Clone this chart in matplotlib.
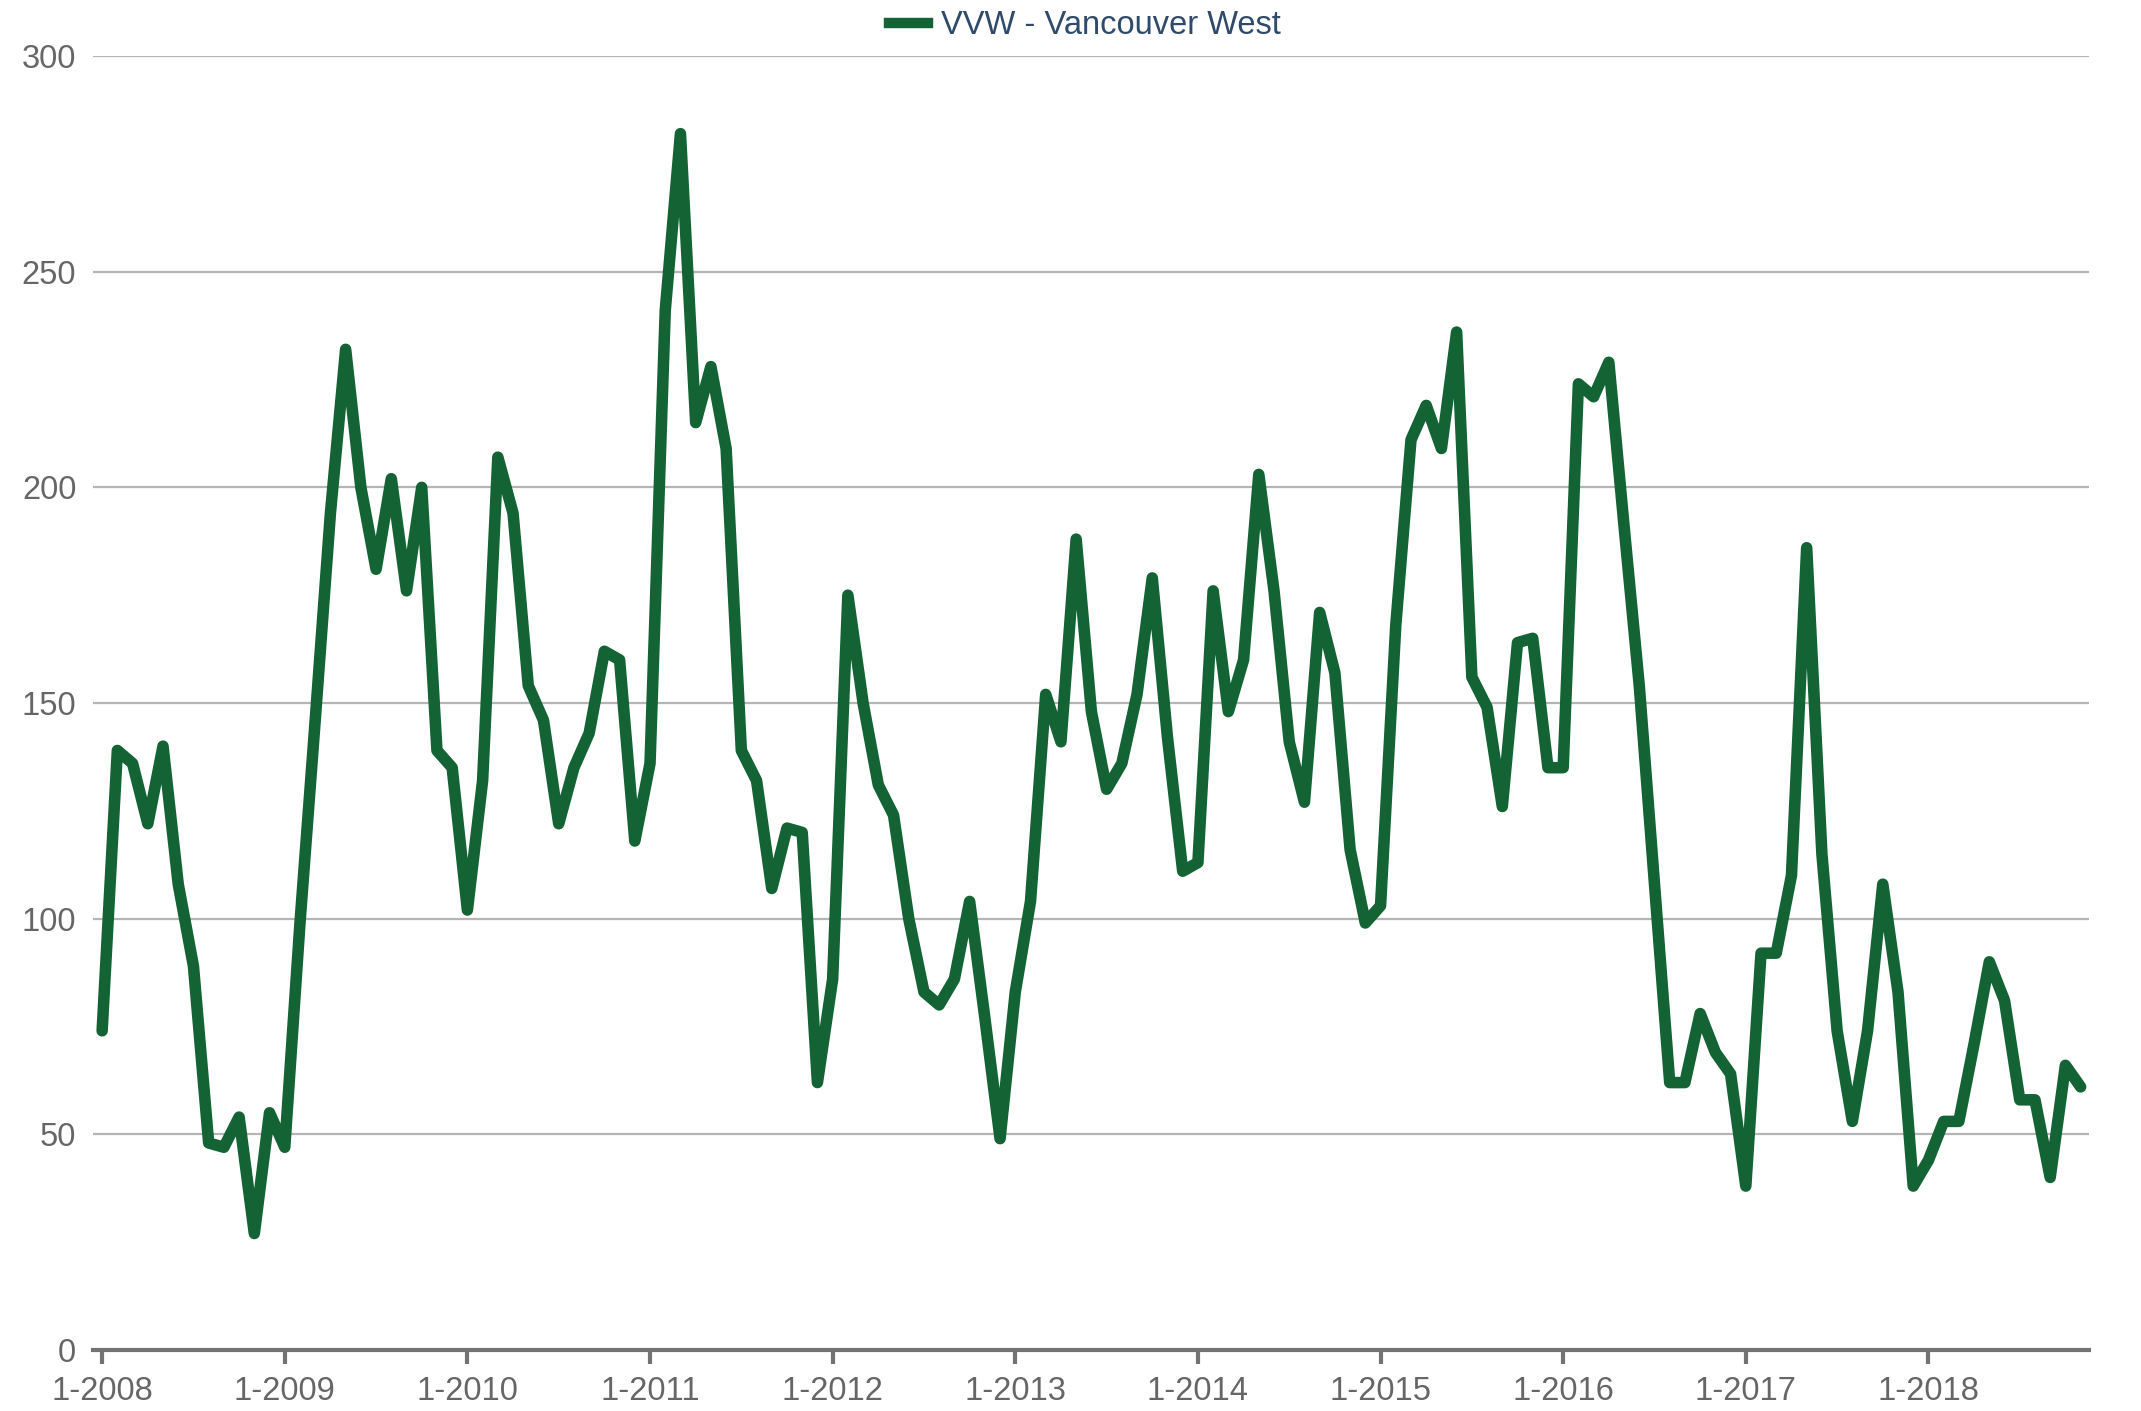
import matplotlib
matplotlib.use("Agg")
import matplotlib.pyplot as plt
from matplotlib.lines import Line2D

# Monthly counts, Jan 2008 .. Nov 2018
values_2008 = [74, 139, 136, 122, 140, 108, 89, 48, 47, 54, 27, 55]
values_2009 = [47, 99, 146, 194, 232, 200, 181, 202, 176, 200, 139, 135]
values_2010 = [102, 132, 207, 194, 154, 146, 122, 135, 143, 162, 160, 118]
values_2011 = [136, 241, 282, 215, 228, 209, 139, 132, 107, 121, 120, 62]
values_2012 = [86, 175, 150, 131, 124, 100, 83, 80, 86, 104, 77, 49]
values_2013 = [83, 104, 152, 141, 188, 148, 130, 136, 152, 179, 142, 111]
values_2014 = [113, 176, 148, 160, 203, 176, 141, 127, 171, 157, 116, 99]
values_2015 = [103, 168, 211, 219, 209, 236, 156, 149, 126, 164, 165, 135]
values_2016 = [135, 224, 221, 229, 191, 154, 108, 62, 62, 78, 69, 64]
values_2017 = [38, 92, 92, 110, 186, 115, 74, 53, 74, 108, 83, 38]
values_2018 = [44, 53, 53, 71, 90, 81, 58, 58, 40, 66, 61]

series_name = "VVW - Vancouver West"
year_labels = ["1-2008", "1-2009", "1-2010", "1-2011", "1-2012", "1-2013",
               "1-2014", "1-2015", "1-2016", "1-2017", "1-2018"]
y_ticks = [0, 50, 100, 150, 200, 250, 300]

values = (values_2008 + values_2009 + values_2010 + values_2011 + values_2012
          + values_2013 + values_2014 + values_2015 + values_2016 + values_2017
          + values_2018)
months = list(range(len(values)))

LINE_COLOR = "#136334"
GRID_COLOR = "#b5b5b5"
AXIS_COLOR = "#737373"
LABEL_COLOR = "#666666"
LEGEND_TEXT = "#2f4a6a"

plt.rcParams["font.family"] = ["Liberation Sans", "DejaVu Sans"]

W, H = 2141, 1411
fig = plt.figure(figsize=(W / 100, H / 100), dpi=100)
left, right, bottom, top = 93, 2089, 1350, 56
ax = fig.add_axes([left / W, 1 - bottom / H, (right - left) / W, (bottom - top) / H])

ax.plot(months, values, color=LINE_COLOR, linewidth=8.3,
        solid_joinstyle="round", solid_capstyle="round", zorder=3)

ax.set_ylim(0, 300)
ax.set_xlim(-0.6, 130.55)

ax.set_yticks(y_ticks)
ax.set_yticklabels([str(v) for v in y_ticks])
ax.yaxis.grid(True, color=GRID_COLOR, linewidth=1.6)
ax.set_axisbelow(True)

ax.set_xticks([12 * i for i in range(len(year_labels))])
ax.set_xticklabels(year_labels)

for side in ("top", "right", "left"):
    ax.spines[side].set_visible(False)
ax.spines["bottom"].set_color(AXIS_COLOR)
ax.spines["bottom"].set_linewidth(3.0)
ax.spines["bottom"].set_zorder(4)

ax.tick_params(axis="x", direction="out", length=10, width=3.0, color=AXIS_COLOR,
               labelsize=23.5, labelcolor=LABEL_COLOR, pad=9)
ax.tick_params(axis="y", length=0, labelsize=23.5, labelcolor=LABEL_COLOR, pad=12)

handle = Line2D([0], [0], color=LINE_COLOR, linewidth=7.5)
fig.legend([handle], [series_name], loc="center",
           bbox_to_anchor=(1085 / W, 1 - 26 / H), frameon=False,
           fontsize=23.5, labelcolor=LEGEND_TEXT, handlelength=1.2,
           handletextpad=0.4, borderpad=0, borderaxespad=0)

fig.savefig("out.png", dpi=100, facecolor="white")
